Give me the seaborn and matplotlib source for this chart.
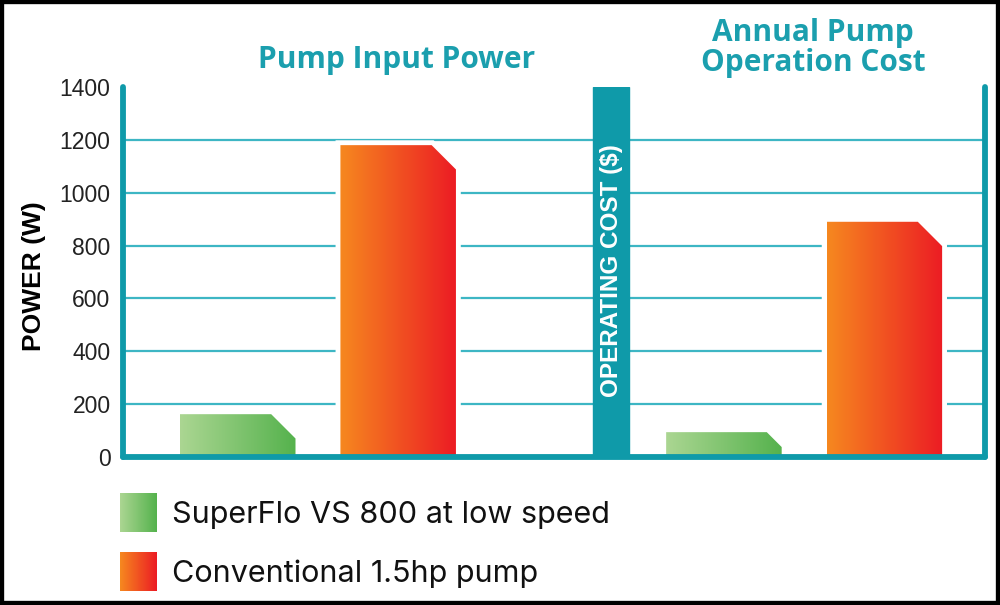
import seaborn as sns
import matplotlib.pyplot as plt
import numpy as np
import pandas as pd
from matplotlib.patches import Polygon, Rectangle

# Datos
panels = ["Pump Input Power", "Annual Pump\nOperation Cost"]
pumps = ["SuperFlo VS 800 at low speed", "Conventional 1.5hp pump"]
superflo = [162, 94]        # W  /  $ por año
conventional = [1180, 890]
yticks = [0, 200, 400, 600, 800, 1000, 1200, 1400]

teal = "#0f9aa9"
grid_teal = "#3db6c4"
gradients = {
    pumps[0]: ("#abd692", "#55b24d"),
    pumps[1]: ("#f6881f", "#ec1c24"),
}

df = pd.DataFrame({
    "panel": panels * 2,
    "pump": [pumps[0]] * 2 + [pumps[1]] * 2,
    "value": superflo + conventional,
})

sns.set_theme(style="white")
plt.rcParams["font.family"] = ["Liberation Sans", "DejaVu Sans"]

fig = plt.figure(figsize=(10, 6.05), dpi=100)
ax = fig.add_axes([0.123, 1 - 457 / 605, 0.862, (457 - 87) / 605])

sns.barplot(data=df, x="panel", y="value", hue="pump", hue_order=pumps,
            width=0.66, gap=0.28, legend=False, ax=ax)

ax.set_xlim(-0.401, 1.372)
ax.set_ylim(0, 1400)
ax.set_yticks(yticks)
ax.set_xticks([])
ax.set_xlabel("")
ax.set_ylabel("POWER (W)", fontsize=19, fontweight="bold", color="black")
ax.yaxis.set_label_coords(-0.089, 0.49)
ax.tick_params(axis="y", length=0, pad=9, labelsize=16.5, labelcolor="#222222")

# rejilla solo entre 200 y 1200
ax.yaxis.grid(True, color=grid_teal, linewidth=1.6)
ax.set_axisbelow(True)
for tick, line in zip(yticks, ax.get_ygridlines()):
    if tick in (0, 1400):
        line.set_visible(False)

for side in ["left", "right", "bottom"]:
    ax.spines[side].set_color(teal)
    ax.spines[side].set_linewidth(4.2)
    ax.spines[side].set_zorder(10)
    ax.spines[side].set_capstyle("round")
ax.spines["top"].set_visible(False)

# barras con degradado y esquina recortada
to_px = ax.transData
px_per_y = (to_px.transform((0, 1400))[1] - to_px.transform((0, 0))[1]) / 1400
px_per_x = to_px.transform((1, 0))[0] - to_px.transform((0, 0))[0]
for bar, pump in zip(ax.patches, [pumps[0]] * 2 + [pumps[1]] * 2):
    x0, w, h = bar.get_x(), bar.get_width(), bar.get_height()
    bar.set_visible(False)
    cy = min(92, 0.6 * h)
    cx = cy * px_per_y / px_per_x   # esquina a 45 grados
    pts = [(x0, 0), (x0, h), (x0 + w - cx, h), (x0 + w, h - cy), (x0 + w, 0)]
    outline = Polygon(pts, closed=True, facecolor="white", edgecolor="white",
                      linewidth=7, zorder=2.5)
    ax.add_patch(outline)
    clip = Polygon(pts, closed=True, facecolor="none", edgecolor="none", zorder=3)
    ax.add_patch(clip)
    c1, c2 = gradients[pump]
    cmap = sns.blend_palette([c1, c2], as_cmap=True)
    img = ax.imshow(np.linspace(0, 1, 256)[None, :], cmap=cmap, aspect="auto",
                    extent=(x0, x0 + w, 0, h), zorder=3)
    img.set_clip_path(clip)

# separador central
ax.axvspan(0.566, 0.640, color=teal, zorder=4)
ax.text(0.603, 704, "OPERATING COST ($)", rotation=90, ha="center", va="center",
        color="white", fontsize=17.5, fontweight="bold", zorder=5)

# títulos
title_font = dict(color="#1b9fae", fontweight="bold", fontsize=21.5,
                  family=["Open Sans", "DejaVu Sans"], ha="center", va="center",
                  linespacing=1.0)
fig.text(0.397, 1 - 60 / 605, "Pump Input Power", **title_font)
fig.text(0.813, 1 - 48 / 605, "Annual Pump\nOperation Cost", **title_font)

# leyenda
for i, pump in enumerate(pumps):
    y_top = [493, 552][i]
    sw = fig.add_axes([0.120, 1 - (y_top + 39) / 605, 0.037, 39 / 605])
    c1, c2 = gradients[pump]
    sw.imshow(np.linspace(0, 1, 64)[None, :],
              cmap=sns.blend_palette([c1, c2], as_cmap=True), aspect="auto")
    sw.axis("off")
    fig.text(0.172, 1 - (y_top + 22) / 605, pump, fontsize=22, color="#111111",
             family=["Inter", "DejaVu Sans"], va="center", ha="left")

# marco negro
fig.patches.append(Rectangle((0, 0), 1, 1, transform=fig.transFigure,
                             fill=False, edgecolor="black", linewidth=6))

fig.savefig("out.png", dpi=100)
